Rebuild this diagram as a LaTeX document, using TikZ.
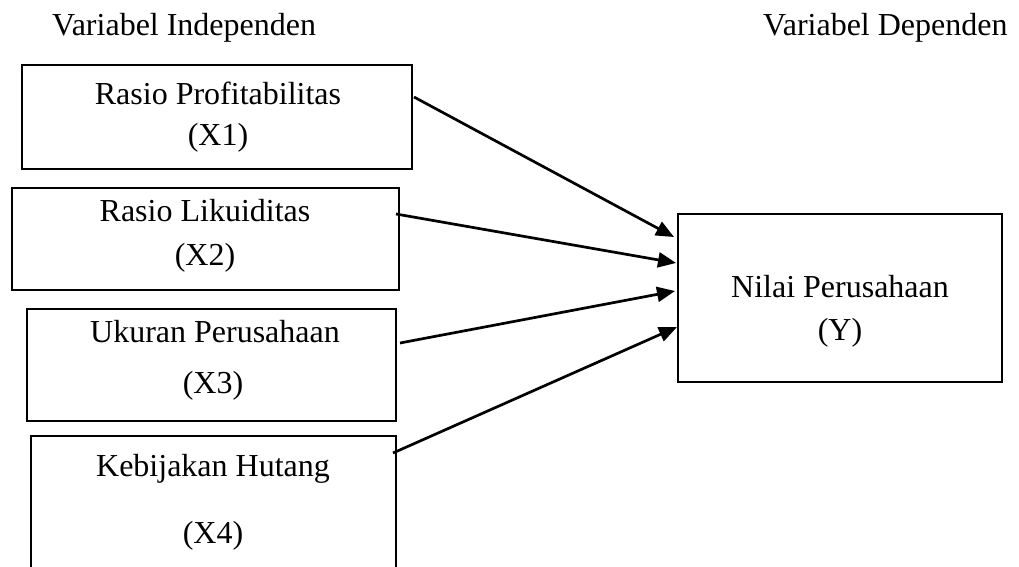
\documentclass[tikz,border=0pt]{standalone}
\usepackage{fontspec}
\setmainfont{Liberation Serif}
\usetikzlibrary{arrows.meta}
\begin{document}
\begin{tikzpicture}[x=1pt,y=-1pt,
  box/.style={draw=black,line width=2pt,minimum width=#1,inner sep=0pt},
  lbl/.style={anchor=base,inner sep=0pt,font=\fontsize{32}{38}\selectfont},
  ttl/.style={anchor=base west,inner sep=0pt,font=\fontsize{32}{38}\selectfont},
  arr/.style={line width=2.7pt,-{Triangle[length=18pt,width=15pt]}}]
\clip (0,0) rectangle (1019,567);
\fill[white] (0,0) rectangle (1019,567);
% titles
\node[ttl] (tin) at (52,36) {Variabel Independen};
\node[ttl] (tdep) at (763,36) {Variabel Dependen};
% boxes
\node[box=390pt,minimum height=104pt] (x1) at (217,117) {};
\node[box=387pt,minimum height=102pt] (x2) at (205.5,239) {};
\node[box=369pt,minimum height=112pt] (x3) at (211.5,365) {};
\node[box=365pt,minimum height=164pt] (x4) at (213.5,518) {};
\node[box=324pt,minimum height=168pt] (y) at (840,298) {};
% labels
\node[lbl] (x1a) at (218,105) {Rasio Profitabilitas};
\node[lbl] (x1b) at (218,146) {(X1)};
\node[lbl] (x2a) at (205,221) {Rasio Likuiditas};
\node[lbl] (x2b) at (205,265) {(X2)};
\node[lbl] (x3a) at (215,342) {Ukuran Perusahaan};
\node[lbl] (x3b) at (213,393) {(X3)};
\node[lbl] (x4a) at (213,476) {Kebijakan Hutang};
\node[lbl] (x4b) at (213,543) {(X4)};
\node[lbl] (ya) at (840,297) {Nilai Perusahaan};
\node[lbl] (yb) at (840,340) {(Y)};
% arrows
\draw[arr] ([shift={(1,-20)}]x1.east) -- ([shift={(-3,-61)}]y.west);
\draw[arr] ([shift={(-4,-25)}]x2.east) -- ([shift={(-1,-35)}]y.west);
\draw[arr] ([shift={(3,-22)}]x3.east) -- ([shift={(-2,-7)}]y.west);
\draw[arr] ([shift={(-4,-65)}]x4.east) -- ([shift={(0,29)}]y.west);
\end{tikzpicture}
\end{document}
